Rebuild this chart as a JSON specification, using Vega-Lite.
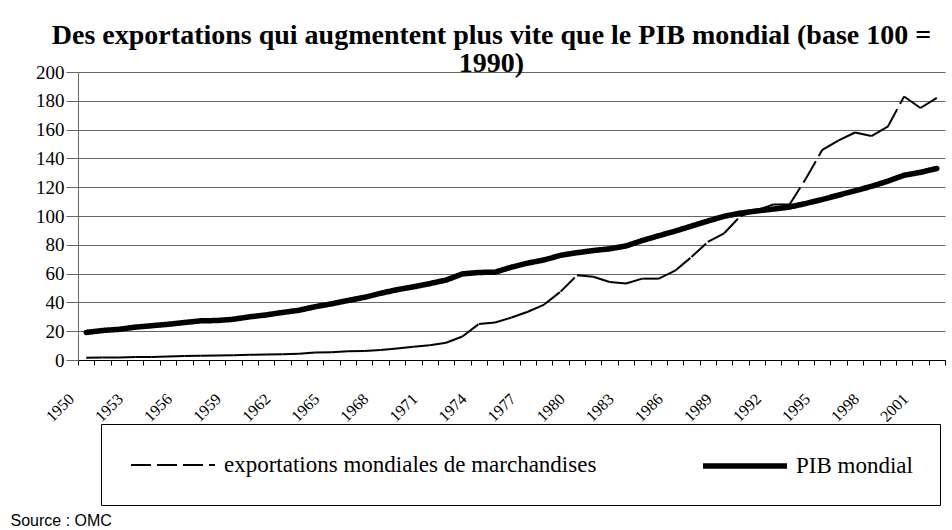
{
  "$schema": "https://vega.github.io/schema/vega-lite/v6.json",
  "autosize": {"type": "none"},
  "padding": {"left": 78, "top": 72, "right": 7, "bottom": 170},
  "width": 867,
  "height": 288,
  "background": "white",
  "config": {
    "font": "Liberation Serif",
    "view": {"stroke": null},
    "legend": {
      "orient": "none",
      "legendX": 23,
      "legendY": 352,
      "direction": "horizontal",
      "columns": 2,
      "symbolType": "M-1,0H6",
      "symbolSize": 576,
      "labelFont": "Liberation Serif",
      "labelFontSize": 23,
      "labelColor": "black",
      "labelOffset": 66,
      "columnPadding": 95,
      "padding": 27,
      "strokeColor": "black",
      "labelLimit": 0
    }
  },
  "title": {
    "text": ["Des exportations qui augmentent plus vite que le PIB mondial (base 100 =", "1990)"],
    "anchor": "middle",
    "dx": -20,
    "offset": -15,
    "font": "Liberation Serif",
    "fontSize": 28,
    "fontWeight": "bold",
    "lineHeight": 28,
    "color": "black"
  },
  "data": {
    "values": [
      {"year": 1950, "series": "PIB mondial", "value": 19.1},
      {"year": 1951, "series": "PIB mondial", "value": 20.5},
      {"year": 1952, "series": "PIB mondial", "value": 21.3},
      {"year": 1953, "series": "PIB mondial", "value": 22.8},
      {"year": 1954, "series": "PIB mondial", "value": 23.8},
      {"year": 1955, "series": "PIB mondial", "value": 24.8},
      {"year": 1956, "series": "PIB mondial", "value": 26},
      {"year": 1957, "series": "PIB mondial", "value": 27.2},
      {"year": 1958, "series": "PIB mondial", "value": 27.4},
      {"year": 1959, "series": "PIB mondial", "value": 28.3},
      {"year": 1960, "series": "PIB mondial", "value": 30},
      {"year": 1961, "series": "PIB mondial", "value": 31.3},
      {"year": 1962, "series": "PIB mondial", "value": 33},
      {"year": 1963, "series": "PIB mondial", "value": 34.5},
      {"year": 1964, "series": "PIB mondial", "value": 37},
      {"year": 1965, "series": "PIB mondial", "value": 39},
      {"year": 1966, "series": "PIB mondial", "value": 41.3},
      {"year": 1967, "series": "PIB mondial", "value": 43.5},
      {"year": 1968, "series": "PIB mondial", "value": 46.3},
      {"year": 1969, "series": "PIB mondial", "value": 48.8},
      {"year": 1970, "series": "PIB mondial", "value": 50.8},
      {"year": 1971, "series": "PIB mondial", "value": 53},
      {"year": 1972, "series": "PIB mondial", "value": 55.5},
      {"year": 1973, "series": "PIB mondial", "value": 59.8},
      {"year": 1974, "series": "PIB mondial", "value": 60.8},
      {"year": 1975, "series": "PIB mondial", "value": 61},
      {"year": 1976, "series": "PIB mondial", "value": 64.5},
      {"year": 1977, "series": "PIB mondial", "value": 67.3},
      {"year": 1978, "series": "PIB mondial", "value": 69.5},
      {"year": 1979, "series": "PIB mondial", "value": 72.7},
      {"year": 1980, "series": "PIB mondial", "value": 74.5},
      {"year": 1981, "series": "PIB mondial", "value": 76},
      {"year": 1982, "series": "PIB mondial", "value": 77.2},
      {"year": 1983, "series": "PIB mondial", "value": 79.2},
      {"year": 1984, "series": "PIB mondial", "value": 83},
      {"year": 1985, "series": "PIB mondial", "value": 86.3},
      {"year": 1986, "series": "PIB mondial", "value": 89.5},
      {"year": 1987, "series": "PIB mondial", "value": 93},
      {"year": 1988, "series": "PIB mondial", "value": 96.5},
      {"year": 1989, "series": "PIB mondial", "value": 99.8},
      {"year": 1990, "series": "PIB mondial", "value": 102},
      {"year": 1991, "series": "PIB mondial", "value": 103.5},
      {"year": 1992, "series": "PIB mondial", "value": 104.8},
      {"year": 1993, "series": "PIB mondial", "value": 106.2},
      {"year": 1994, "series": "PIB mondial", "value": 108.7},
      {"year": 1995, "series": "PIB mondial", "value": 111.5},
      {"year": 1996, "series": "PIB mondial", "value": 114.5},
      {"year": 1997, "series": "PIB mondial", "value": 117.5},
      {"year": 1998, "series": "PIB mondial", "value": 120.6},
      {"year": 1999, "series": "PIB mondial", "value": 124.2},
      {"year": 2000, "series": "PIB mondial", "value": 128.3},
      {"year": 2001, "series": "PIB mondial", "value": 130.3},
      {"year": 2002, "series": "PIB mondial", "value": 133},
      {"year": 1950, "series": "exportations mondiales de marchandises", "value": 1.5},
      {"year": 1951, "series": "exportations mondiales de marchandises", "value": 1.7},
      {"year": 1952, "series": "exportations mondiales de marchandises", "value": 1.8},
      {"year": 1953, "series": "exportations mondiales de marchandises", "value": 2.0},
      {"year": 1954, "series": "exportations mondiales de marchandises", "value": 2.1},
      {"year": 1955, "series": "exportations mondiales de marchandises", "value": 2.5},
      {"year": 1956, "series": "exportations mondiales de marchandises", "value": 2.7},
      {"year": 1957, "series": "exportations mondiales de marchandises", "value": 3.0},
      {"year": 1958, "series": "exportations mondiales de marchandises", "value": 3.1},
      {"year": 1959, "series": "exportations mondiales de marchandises", "value": 3.3},
      {"year": 1960, "series": "exportations mondiales de marchandises", "value": 3.6},
      {"year": 1961, "series": "exportations mondiales de marchandises", "value": 3.8},
      {"year": 1962, "series": "exportations mondiales de marchandises", "value": 4.0},
      {"year": 1963, "series": "exportations mondiales de marchandises", "value": 4.3},
      {"year": 1964, "series": "exportations mondiales de marchandises", "value": 5.2},
      {"year": 1965, "series": "exportations mondiales de marchandises", "value": 5.4},
      {"year": 1966, "series": "exportations mondiales de marchandises", "value": 6.0},
      {"year": 1967, "series": "exportations mondiales de marchandises", "value": 6.2},
      {"year": 1968, "series": "exportations mondiales de marchandises", "value": 7.0},
      {"year": 1969, "series": "exportations mondiales de marchandises", "value": 8.0},
      {"year": 1970, "series": "exportations mondiales de marchandises", "value": 9.2},
      {"year": 1971, "series": "exportations mondiales de marchandises", "value": 10.2},
      {"year": 1972, "series": "exportations mondiales de marchandises", "value": 12},
      {"year": 1973, "series": "exportations mondiales de marchandises", "value": 16.3},
      {"year": 1974, "series": "exportations mondiales de marchandises", "value": 25},
      {"year": 1975, "series": "exportations mondiales de marchandises", "value": 26},
      {"year": 1976, "series": "exportations mondiales de marchandises", "value": 29.5},
      {"year": 1977, "series": "exportations mondiales de marchandises", "value": 33.5},
      {"year": 1978, "series": "exportations mondiales de marchandises", "value": 38.5},
      {"year": 1979, "series": "exportations mondiales de marchandises", "value": 47.5},
      {"year": 1980, "series": "exportations mondiales de marchandises", "value": 58.8},
      {"year": 1981, "series": "exportations mondiales de marchandises", "value": 57.8},
      {"year": 1982, "series": "exportations mondiales de marchandises", "value": 54.2},
      {"year": 1983, "series": "exportations mondiales de marchandises", "value": 53.1},
      {"year": 1984, "series": "exportations mondiales de marchandises", "value": 56.5},
      {"year": 1985, "series": "exportations mondiales de marchandises", "value": 56.5},
      {"year": 1986, "series": "exportations mondiales de marchandises", "value": 62},
      {"year": 1987, "series": "exportations mondiales de marchandises", "value": 71.5},
      {"year": 1988, "series": "exportations mondiales de marchandises", "value": 82},
      {"year": 1989, "series": "exportations mondiales de marchandises", "value": 88},
      {"year": 1990, "series": "exportations mondiales de marchandises", "value": 100},
      {"year": 1991, "series": "exportations mondiales de marchandises", "value": 104},
      {"year": 1992, "series": "exportations mondiales de marchandises", "value": 108},
      {"year": 1993, "series": "exportations mondiales de marchandises", "value": 108},
      {"year": 1994, "series": "exportations mondiales de marchandises", "value": 126},
      {"year": 1995, "series": "exportations mondiales de marchandises", "value": 146},
      {"year": 1996, "series": "exportations mondiales de marchandises", "value": 152.5},
      {"year": 1997, "series": "exportations mondiales de marchandises", "value": 158},
      {"year": 1998, "series": "exportations mondiales de marchandises", "value": 155.5},
      {"year": 1999, "series": "exportations mondiales de marchandises", "value": 162},
      {"year": 2000, "series": "exportations mondiales de marchandises", "value": 183},
      {"year": 2001, "series": "exportations mondiales de marchandises", "value": 175},
      {"year": 2002, "series": "exportations mondiales de marchandises", "value": 182}
    ]
  },
  "encoding": {
    "x": {
      "field": "year",
      "type": "quantitative",
      "scale": {"domain": [1949.5, 2002.5], "nice": false, "zero": false},
      "axis": {
        "title": "Source : OMC",
        "titleFont": "Liberation Sans",
        "titleFontSize": 16,
        "titleFontWeight": "normal",
        "titleColor": "black",
        "titleAnchor": "start",
        "titleAlign": "left",
        "titleBaseline": "alphabetic",
        "titleX": -68,
        "titleY": 165,
        "values": [1949.5, 1950.5, 1951.5, 1952.5, 1953.5, 1954.5, 1955.5, 1956.5, 1957.5, 1958.5, 1959.5, 1960.5, 1961.5, 1962.5, 1963.5, 1964.5, 1965.5, 1966.5, 1967.5, 1968.5, 1969.5, 1970.5, 1971.5, 1972.5, 1973.5, 1974.5, 1975.5, 1976.5, 1977.5, 1978.5, 1979.5, 1980.5, 1981.5, 1982.5, 1983.5, 1984.5, 1985.5, 1986.5, 1987.5, 1988.5, 1989.5, 1990.5, 1991.5, 1992.5, 1993.5, 1994.5, 1995.5, 1996.5, 1997.5, 1998.5, 1999.5, 2000.5, 2001.5, 2002.5],
        "labelExpr": "(datum.value + 0.5) % 3 == 0 ? '' + (datum.value + 0.5) : ''",
        "labelAngle": -45,
        "labelAlign": "right",
        "labelBaseline": "middle",
        "labelPadding": 31,
        "labelOffset": -7,
        "labelFont": "Liberation Serif",
        "labelFontSize": 16,
        "labelColor": "black",
        "labelOverlap": false,
        "labelBound": false,
        "labelFlush": false,
        "grid": false,
        "tickSize": 5,
        "tickColor": "black",
        "domainColor": "black"
      }
    },
    "y": {
      "field": "value",
      "type": "quantitative",
      "scale": {"domain": [0, 200], "nice": false},
      "axis": {
        "title": null,
        "values": [0, 20, 40, 60, 80, 100, 120, 140, 160, 180, 200],
        "labelFont": "Liberation Serif",
        "labelFontSize": 19,
        "labelColor": "black",
        "labelPadding": 2,
        "tickSize": 12,
        "tickColor": "#666666",
        "domainColor": "#666666",
        "gridColor": "#666666",
        "gridWidth": 1
      }
    },
    "color": {
      "field": "series",
      "type": "nominal",
      "scale": {"domain": ["exportations mondiales de marchandises", "PIB mondial"], "range": ["black", "black"]},
      "legend": {"title": null, "symbolType": "M-1,0H6"}
    },
    "strokeDash": {
      "field": "series",
      "type": "nominal",
      "scale": {"domain": ["exportations mondiales de marchandises", "PIB mondial"], "range": [[20, 6], [1, 0]]},
      "legend": {"title": null, "symbolType": "M-1,0H6"}
    },
    "strokeWidth": {
      "field": "series",
      "type": "nominal",
      "scale": {"domain": ["exportations mondiales de marchandises", "PIB mondial"], "range": [2, 5.5]},
      "legend": {"title": null, "symbolType": "M-1,0H6"}
    }
  },
  "layer": [
    {
      "transform": [{"filter": "datum.series == 'PIB mondial'"}],
      "mark": {"type": "line", "strokeJoin": "round", "strokeCap": "round"}
    },
    {
      "transform": [
        {"filter": "datum.series != 'PIB mondial'"},
        {"window": [{"op": "lead", "field": "year", "as": "year2"}, {"op": "lead", "field": "value", "as": "value2"}], "sort": [{"field": "year", "order": "ascending"}]},
        {"filter": "datum.year2 != null"}
      ],
      "mark": {"type": "rule", "strokeCap": "butt"},
      "encoding": {
        "x2": {"field": "year2"},
        "y2": {"field": "value2"}
      }
    }
  ]
}
